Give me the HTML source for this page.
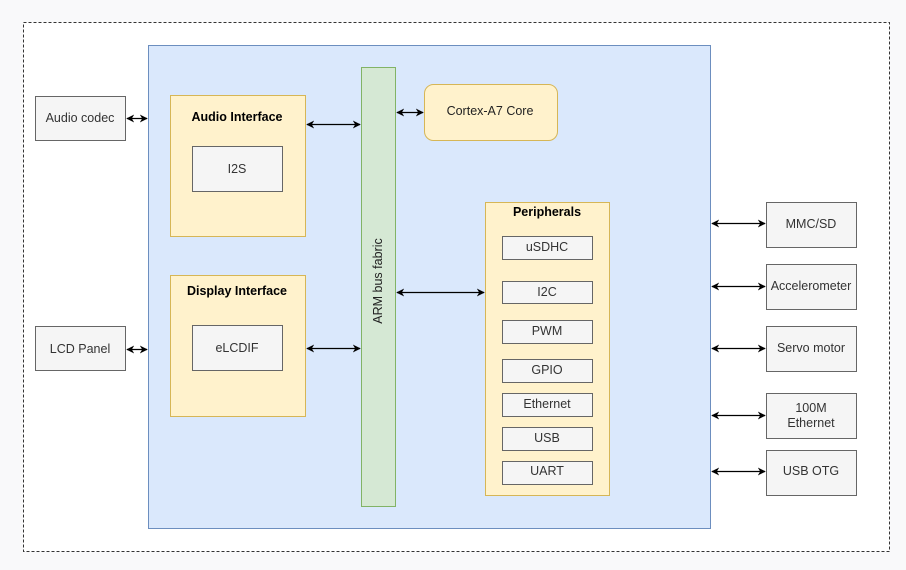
<!DOCTYPE html>
<html><head><meta charset="utf-8"><style>
html,body{margin:0;padding:0;background:#f9f9fa;}
svg{display:block;font-family:"Liberation Sans",Arial,sans-serif;}
</style></head><body>
<svg width="906" height="570" viewBox="0 0 906 570" xmlns="http://www.w3.org/2000/svg">
<defs>
<marker id="a" viewBox="0 0 10 10" refX="9" refY="5" markerWidth="8" markerHeight="8" orient="auto-start-reverse" markerUnits="userSpaceOnUse">
<path d="M0,0 L10,5 L0,10 L3,5 z" fill="#000"/>
</marker>
</defs>
<rect x="23.5" y="22.5" width="866" height="529" fill="#fff" stroke="#333" stroke-dasharray="3,2"/>
<rect x="148.5" y="45.5" width="562" height="483" fill="#dae8fc" stroke="#6c8ebf"/>
<g fill="#f5f5f5" stroke="#666">
<rect x="35.5" y="96.5" width="90" height="44"/>
<rect x="35.5" y="326.5" width="90" height="44"/>
</g>
<g fill="#fff2cc" stroke="#d6b656">
<rect x="170.5" y="95.5" width="135" height="141"/>
<rect x="170.5" y="275.5" width="135" height="141"/>
<rect x="424.5" y="84.5" width="133" height="56" rx="9"/>
<rect x="485.5" y="202.5" width="124" height="293"/>
</g>
<rect x="361.5" y="67.5" width="34" height="439" fill="#d5e8d4" stroke="#82b366"/>
<g fill="#f5f5f5" stroke="#666">
<rect x="192.5" y="146.5" width="90" height="45"/>
<rect x="192.5" y="325.5" width="90" height="45"/>
<rect x="502.5" y="236.5" width="90" height="23"/>
<rect x="502.5" y="281.5" width="90" height="22"/>
<rect x="502.5" y="320.5" width="90" height="23"/>
<rect x="502.5" y="359.5" width="90" height="23"/>
<rect x="502.5" y="393.5" width="90" height="23"/>
<rect x="502.5" y="427.5" width="90" height="23"/>
<rect x="502.5" y="461.5" width="90" height="23"/>
<rect x="766.5" y="202.5" width="90" height="45"/>
<rect x="766.5" y="264.5" width="90" height="45"/>
<rect x="766.5" y="326.5" width="90" height="45"/>
<rect x="766.5" y="393.5" width="90" height="45"/>
<rect x="766.5" y="450.5" width="90" height="45"/>
</g>
<g stroke="#000" stroke-width="1.3" marker-start="url(#a)" marker-end="url(#a)">
<line x1="127" y1="118.5" x2="147" y2="118.5"/>
<line x1="127" y1="349.5" x2="147" y2="349.5"/>
<line x1="307" y1="124.5" x2="360" y2="124.5"/>
<line x1="397" y1="112.5" x2="423" y2="112.5"/>
<line x1="307" y1="348.5" x2="360" y2="348.5"/>
<line x1="397" y1="292.5" x2="484" y2="292.5"/>
<line x1="712" y1="223.5" x2="765" y2="223.5"/>
<line x1="712" y1="286.5" x2="765" y2="286.5"/>
<line x1="712" y1="348.5" x2="765" y2="348.5"/>
<line x1="712" y1="415.5" x2="765" y2="415.5"/>
<line x1="712" y1="471.5" x2="765" y2="471.5"/>
</g>
<g font-size="12.5" fill="#333" text-anchor="middle">
<text x="80" y="122">Audio codec</text>
<text x="80" y="353">LCD Panel</text>
<text x="237" y="173">I2S</text>
<text x="237" y="352">eLCDIF</text>
<text x="490" y="115" fill="#222">Cortex-A7 Core</text>
<text x="547" y="251">uSDHC</text>
<text x="547" y="296">I2C</text>
<text x="547" y="335">PWM</text>
<text x="547" y="374">GPIO</text>
<text x="547" y="408">Ethernet</text>
<text x="547" y="442">USB</text>
<text x="547" y="475">UART</text>
<text x="811" y="228">MMC/SD</text>
<text x="811" y="290">Accelerometer</text>
<text x="811" y="352">Servo motor</text>
<text x="811" y="412">100M</text>
<text x="811" y="427">Ethernet</text>
<text x="811" y="475">USB OTG</text>
<text x="0" y="0" transform="translate(382,281) rotate(-90)" fill="#222">ARM bus fabric</text>
</g>
<g font-size="12.5" font-weight="bold" fill="#000" text-anchor="middle">
<text x="237" y="121">Audio Interface</text>
<text x="237" y="295">Display Interface</text>
<text x="547" y="216">Peripherals</text>
</g>
</svg>
</body></html>
